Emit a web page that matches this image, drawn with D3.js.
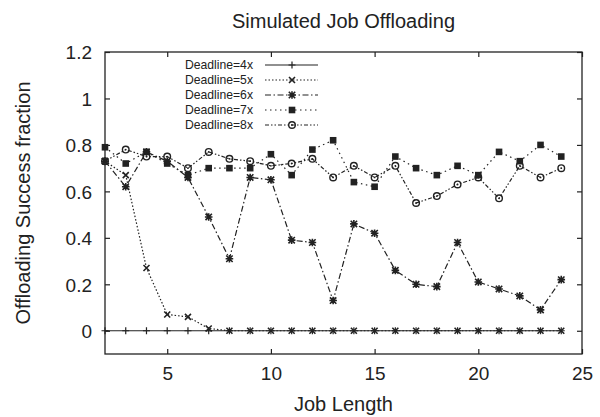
<!DOCTYPE html>
<html><head><meta charset="utf-8">
<script src="https://cdn.jsdelivr.net/npm/d3@7"></script>
<style>body{margin:0;background:#fff}svg{display:block}text{font-family:"Liberation Sans",Arial,sans-serif;fill:#222}</style>
</head><body>
<script>
const jobLength = [2,3,4,5,6,7,8,9,10,11,12,13,14,15,16,17,18,19,20,21,22,23,24];
const deadline4x = [0,0,0,0,0,0,0,0,0,0,0,0,0,0,0,0,0,0,0,0,0,0,0];
const deadline5x = [0.73,0.67,0.27,0.07,0.06,0.01,0,0,0,0,0,0,0,0,0,0,0,0,0,0,0,0,0];
const deadline6x = [0.73,0.62,0.77,0.73,0.66,0.49,0.31,0.66,0.65,0.39,0.38,0.13,0.46,0.42,0.26,0.20,0.19,0.38,0.21,0.18,0.15,0.09,0.22];
const deadline7x = [0.79,0.72,0.77,0.72,0.67,0.70,0.70,0.70,0.76,0.67,0.78,0.82,0.64,0.62,0.75,0.70,0.67,0.71,0.67,0.77,0.73,0.80,0.75];
const deadline8x = [0.73,0.78,0.75,0.75,0.70,0.77,0.74,0.73,0.71,0.72,0.74,0.66,0.71,0.66,0.71,0.55,0.58,0.63,0.66,0.57,0.71,0.66,0.70];
const seriesNames = ["Deadline=4x","Deadline=5x","Deadline=6x","Deadline=7x","Deadline=8x"];
const xTicks = [5,10,15,20,25];
const yTicks = [0,0.2,0.4,0.6,0.8,1,1.2];

const W=600,H=417;
const L=105,R=582,T=52,B=354;
const svg=d3.select("body").append("svg").attr("width",W).attr("height",H);
const x=d3.scaleLinear().domain([2,25]).range([L,R]);
const y=d3.scaleLinear().domain([-0.1,1.2]).range([B,T]);
const ink="#222";

const series=[
 {name:seriesNames[0],vals:deadline4x,dash:null,marker:"plus"},
 {name:seriesNames[1],vals:deadline5x,dash:"1.5,2",marker:"cross"},
 {name:seriesNames[2],vals:deadline6x,dash:"6,2.5,1.5,2.5",marker:"star"},
 {name:seriesNames[3],vals:deadline7x,dash:"1.5,3.5",marker:"square"},
 {name:seriesNames[4],vals:deadline8x,dash:"4,2,1.5,2,1.5,2",marker:"circle"}
];

function drawMarker(g,type,cx,cy){
  if(type==="plus"){
    g.append("path").attr("d",`M${cx-3.5},${cy}h7M${cx},${cy-3.5}v7`).attr("stroke",ink).attr("stroke-width",1.2);
  }else if(type==="cross"){
    g.append("path").attr("d",`M${cx-3},${cy-3}l6,6M${cx-3},${cy+3}l6,-6`).attr("stroke",ink).attr("stroke-width",1.6);
  }else if(type==="star"){
    g.append("path").attr("d",`M${cx-3.2},${cy-3.2}l6.4,6.4M${cx-3.2},${cy+3.2}l6.4,-6.4M${cx-3.8},${cy}h7.6M${cx},${cy-3.8}v7.6`).attr("stroke",ink).attr("stroke-width",1.6);
  }else if(type==="square"){
    g.append("rect").attr("x",cx-3.3).attr("y",cy-3.3).attr("width",6.6).attr("height",6.6).attr("fill",ink);
  }else if(type==="circle"){
    g.append("circle").attr("cx",cx).attr("cy",cy).attr("r",3.3).attr("fill","none").attr("stroke",ink).attr("stroke-width",1.4);
    g.append("circle").attr("cx",cx).attr("cy",cy).attr("r",0.9).attr("fill",ink);
  }
}

// frame
svg.append("rect").attr("x",L).attr("y",T).attr("width",R-L).attr("height",B-T).attr("fill","none").attr("stroke",ink).attr("stroke-width",1.3);

// axes with inward ticks
const xb=svg.append("g").attr("transform",`translate(0,${B})`).call(d3.axisBottom(x).tickValues(xTicks).tickSize(-5).tickPadding(13).tickFormat(d3.format("d")));
const xt=svg.append("g").attr("transform",`translate(0,${T})`).call(d3.axisTop(x).tickValues(xTicks).tickSize(-5).tickFormat(""));
const yl=svg.append("g").attr("transform",`translate(${L},0)`).call(d3.axisLeft(y).tickValues(yTicks).tickSize(-5).tickPadding(13).tickFormat(d=>d3.format("")(+d.toFixed(1))));
const yr=svg.append("g").attr("transform",`translate(${R},0)`).call(d3.axisRight(y).tickValues(yTicks).tickSize(-5).tickFormat(""));
[xb,xt,yl,yr].forEach(g=>{g.select(".domain").remove();g.selectAll(".tick line").attr("stroke",ink).attr("stroke-width",1.2);
  g.selectAll(".tick text").attr("font-size",19).attr("fill",ink).attr("font-family","Liberation Sans, Arial, sans-serif");});
xb.selectAll(".tick text").attr("dy","0.71em").attr("y",13);
yl.selectAll(".tick text").attr("dy","0.36em").attr("x",-13);

// lines
const line=d3.line().x((d,i)=>x(jobLength[i])).y(d=>y(d));
const gData=svg.append("g");
series.slice().reverse().forEach(s=>{
  gData.append("path").datum(s.vals).attr("d",line).attr("fill","none").attr("stroke",ink)
   .attr("stroke-width",1.2).attr("stroke-dasharray",s.dash);
  const gm=gData.append("g");
  s.vals.forEach((v,i)=>drawMarker(gm,s.marker,x(jobLength[i]),y(v)));
});

// legend
const lg=svg.append("g");
series.forEach((s,i)=>{
  const yy=65+i*15;
  lg.append("text").attr("x",253).attr("y",yy).attr("dy","0.35em").attr("text-anchor","end").attr("font-size",12.2).text(s.name);
  lg.append("line").attr("x1",265).attr("x2",318).attr("y1",yy).attr("y2",yy).attr("stroke",ink).attr("stroke-width",1.2).attr("stroke-dasharray",s.dash);
  drawMarker(lg,s.marker,292,yy);
});

// titles
svg.append("text").attr("x",(L+R)/2).attr("y",27.5).attr("text-anchor","middle").attr("font-size",20).text("Simulated Job Offloading");
svg.append("text").attr("x",(L+R)/2).attr("y",411).attr("text-anchor","middle").attr("font-size",20).text("Job Length");
svg.append("text").attr("transform",`translate(30,${(T+B)/2}) rotate(-90)`).attr("text-anchor","middle").attr("font-size",20).text("Offloading Success fraction");
</script>
</body></html>
